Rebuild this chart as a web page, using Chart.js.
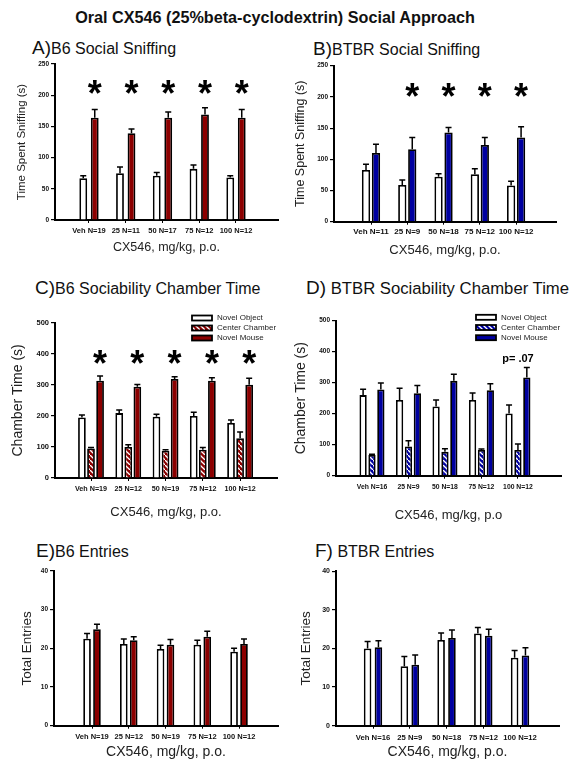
<!DOCTYPE html>
<html>
<head>
<meta charset="utf-8">
<script src="https://cdn.jsdelivr.net/npm/chart.js@4.4.1/dist/chart.umd.min.js"></script>
<style>
  html, body { margin: 0; padding: 0; background: #fff; }
  body { width: 576px; height: 760px; position: relative; overflow: hidden; font-family: 'Liberation Sans', Arial, sans-serif; }
  canvas { position: absolute; }
  #main { position: absolute; top: 9px; left: 0; width: 550px; text-align: center; font-weight: bold; font-size: 16.2px; line-height: 1; color: #111; }
  .ttl { position: absolute; white-space: nowrap; color: #111; font-size: 16px; line-height: 20px; }
  .ttl span { font-size: 19px; line-height: 0; }
</style>
</head>
<body>
<div id="main">Oral CX546 (25%beta-cyclodextrin) Social Approach</div>
<div class="ttl" style="left:32px;top:39px"><span>A)</span>B6 Social Sniffing</div>
<div class="ttl" style="left:313px;top:40px"><span>B)</span>BTBR Social Sniffing</div>
<div class="ttl" style="left:35px;top:279px"><span>C)</span>B6 Sociability Chamber Time</div>
<div class="ttl" style="left:306px;top:279px;font-size:16.7px"><span>D)</span> BTBR Sociability Chamber Time</div>
<div class="ttl" style="left:36px;top:542px"><span>E)</span>B6 Entries</div>
<div class="ttl" style="left:315px;top:542px"><span>F)</span> BTBR Entries</div>
<canvas id="a" width="288" height="224"></canvas>
<canvas id="b" width="288" height="226"></canvas>
<canvas id="c" width="288" height="222"></canvas>
<canvas id="d" width="288" height="222"></canvas>
<canvas id="e" width="288" height="195"></canvas>
<canvas id="f" width="288" height="195"></canvas>
<script>
// tick labels (dose + group size)
var labelsA = ['Veh N=19', '25 N=11', '50 N=17', '75 N=12', '100 N=12'];
var labelsB = ['Veh N=11', '25 N=9', '50 N=18', '75 N=12', '100 N=12'];
var labelsC = ['Veh N=19', '25 N=12', '50 N=19', '75 N=12', '100 N=12'];
var labelsD = ['Veh N=16', '25 N=9', '50 N=18', '75 N=12', '100 N=12'];
var labelsE = ['Veh N=19', '25 N=12', '50 N=19', '75 N=12', '100 N=12'];
var labelsF = ['Veh N=16', '25 N=9', '50 N=18', '75 N=12', '100 N=12'];

// A) B6 social sniffing (s)
var objectA = [67, 75, 71, 82, 68];
var objectErrA = [4, 10, 5, 6, 3];
var mouseA = [164, 139, 164, 169, 164];
var mouseErrA = [13, 7, 9, 11, 13];
var marksA = ['*', '*', '*', '*', '*'];

// B) BTBR social sniffing (s)
var objectB = [83, 59, 72, 76, 58];
var objectErrB = [9, 8, 5, 9, 7];
var mouseB = [110, 116, 143, 123, 135];
var mouseErrB = [14, 19, 8, 12, 17];
var marksB = ['', '*', '*', '*', '*'];

// C) B6 chamber time (s)
var objectC = [195, 209, 197, 200, 177];
var objectErrC = [8, 10, 8, 12, 10];
var centerC = [95, 100, 88, 91, 128];
var centerErrC = [3, 7, 3, 7, 20];
var mouseC = [313, 294, 319, 313, 300];
var mouseErrC = [15, 7, 7, 10, 21];
var marksC = ['*', '*', '*', '*', '*'];

// D) BTBR chamber time (s)
var objectD = [260, 244, 223, 244, 201];
var objectErrD = [19, 38, 21, 23, 27];
var centerD = [67, 94, 77, 83, 83];
var centerErrD = [2, 19, 10, 3, 19];
var mouseD = [278, 266, 306, 276, 317];
var mouseErrD = [21, 25, 21, 21, 32];
var marksD = ['', '', '', '', 'p= .07'];

// E) B6 entries
var objectE = [22.5, 21.1, 19.8, 20.9, 19.1];
var objectErrE = [1.3, 1.3, 1.0, 1.2, 0.9];
var mouseE = [24.9, 22.1, 20.9, 23.0, 21.1];
var mouseErrE = [1.3, 0.9, 1.4, 1.4, 1.3];

// F) BTBR entries
var objectF = [20.0, 15.4, 22.2, 23.9, 17.6];
var objectErrF = [1.8, 2.5, 1.8, 1.5, 1.9];
var mouseF = [20.3, 15.8, 22.7, 23.3, 18.2];
var mouseErrF = [1.7, 2.5, 2.1, 1.7, 2.0];

var FONT = "'Liberation Sans', Arial, sans-serif";
var RED = '#8c0000';
var BLUE = '#0000a0';

// red/blue fill with white diagonal dashes
function hatch(color) {
	var c = document.createElement('canvas');
	c.width = 5; c.height = 5;
	var g = c.getContext('2d');
	g.fillStyle = color;
	g.fillRect(0, 0, 5, 5);
	g.strokeStyle = '#fff';
	g.lineWidth = 1.3;
	g.beginPath();
	g.moveTo(-1, -1); g.lineTo(6, 6);
	g.stroke();
	return g.createPattern(c, 'repeat');
}

function pts(vals) {
	return vals.map(function(v, i) { return { x: i + 1, y: v }; });
}

// upward error bars with a cap
var errorBars = {
	id: 'errorBars',
	afterDatasetsDraw: function(chart) {
		var ctx = chart.ctx, ys = chart.scales.y;
		ctx.save();
		ctx.strokeStyle = '#000';
		ctx.lineWidth = 1.5;
		chart.data.datasets.forEach(function(ds, di) {
			chart.getDatasetMeta(di).data.forEach(function(bar, i) {
				var top = ys.getPixelForValue(ds.data[i].y + ds.err[i]);
				ctx.beginPath();
				ctx.moveTo(bar.x, bar.y); ctx.lineTo(bar.x, top);
				ctx.moveTo(bar.x - 3, top); ctx.lineTo(bar.x + 3, top);
				ctx.stroke();
			});
		});
		ctx.restore();
	}
};

// significance marks above groups
var marks = {
	id: 'marks',
	afterDraw: function(chart, args, opts) {
		if (!opts.text) return;
		var ctx = chart.ctx, ys = chart.scales.y, xs = chart.scales.x;
		var last = chart.getDatasetMeta(chart.data.datasets.length - 1);
		var y = ys.getPixelForValue(opts.level);
		ctx.save();
		ctx.fillStyle = '#000';
		ctx.textAlign = 'center';
		opts.text.forEach(function(t, i) {
			if (!t) return;
			if (t === '*') {
				ctx.font = 'bold 36px ' + FONT;
				ctx.textBaseline = 'alphabetic';
				ctx.fillText(t, last.data[i].x, y + 20);
			} else {
				ctx.font = 'bold 11px ' + FONT;
				ctx.textBaseline = 'middle';
				ctx.fillText(t, xs.getPixelForValue(i + 1), y);
			}
		});
		ctx.restore();
	}
};

// small legend in the top right corner of the plot
var boxLegend = {
	id: 'boxLegend',
	afterDraw: function(chart, args, opts) {
		if (!opts.show) return;
		var ctx = chart.ctx, a = chart.chartArea;
		var x0 = a.right - 85;
		ctx.save();
		chart.data.datasets.forEach(function(ds, i) {
			var y = a.top + opts.dy + i * opts.step;
			ctx.fillStyle = ds.backgroundColor;
			ctx.fillRect(x0, y - 2.5, 20, 5);
			ctx.strokeStyle = '#000';
			ctx.lineWidth = 1.8;
			ctx.strokeRect(x0, y - 2.5, 20, 5);
			ctx.fillStyle = '#222';
			ctx.font = '8px ' + FONT;
			ctx.textBaseline = 'middle';
			ctx.textAlign = 'left';
			ctx.fillText(ds.label, x0 + 25, y);
		});
		ctx.restore();
	}
};

function bars(label, vals, errs, fill, cp, bp) {
	return {
		label: label, data: pts(vals), err: errs,
		backgroundColor: fill, borderColor: '#000', borderWidth: 1.8,
		categoryPercentage: cp, barPercentage: bp
	};
}

function panel(cfg) {
	var el = document.getElementById(cfg.id);
	el.style.left = cfg.box.x + 'px';
	el.style.top = cfg.box.y + 'px';
	var bottom = cfg.box.y + cfg.box.h;
	return new Chart(el, {
		type: 'bar',
		data: { datasets: cfg.datasets },
		plugins: [errorBars, marks, boxLegend],
		options: {
			responsive: false,
			animation: false,
			events: [],
			layout: { padding: { left: 0, top: cfg.area.t - cfg.box.y, right: cfg.box.x + cfg.box.w - cfg.area.r, bottom: 0 } },
			plugins: {
				legend: { display: false },
				tooltip: { enabled: false },
				marks: { text: cfg.marks, level: cfg.markLevel },
				boxLegend: { show: !!cfg.legend, dy: cfg.legend ? cfg.legend.dy : 0, step: cfg.legend ? cfg.legend.step : 0 }
			},
			scales: {
				x: {
					type: 'linear', min: cfg.xMin, max: cfg.xMax, offset: false,
					afterBuildTicks: function(s) { s.ticks = cfg.labels.map(function(l, i) { return { value: i + 1 }; }); },
					afterFit: function(s) { s.height = bottom - cfg.area.b; },
					border: { color: '#000', width: 2 },
					grid: { drawOnChartArea: false, offset: false, color: '#000', tickLength: 3, lineWidth: 1 },
					ticks: {
						autoSkip: false, maxRotation: 0, minRotation: 0, color: '#111',
						padding: cfg.tickY - cfg.area.b - 3 - cfg.xTickSize / 2,
						font: { family: FONT, size: cfg.xTickSize, weight: 'bold', lineHeight: 1 },
						callback: function(v) { return cfg.labels[Math.round(v) - 1]; }
					},
					title: {
						display: true, text: cfg.xTitle, color: '#222',
						font: { family: FONT, size: cfg.xTitleSize, lineHeight: 1 },
						padding: { top: 0, bottom: bottom - cfg.xTitleY - cfg.xTitleSize / 2 }
					}
				},
				y: {
					min: 0, max: cfg.yMax,
					afterFit: function(s) { s.width = cfg.area.l - cfg.box.x; },
					border: { color: '#000', width: 2 },
					grid: { drawOnChartArea: false, color: '#000', tickLength: 4, lineWidth: 1.2 },
					ticks: { stepSize: cfg.yStep, padding: 2, color: '#111', font: { family: FONT, size: cfg.yTickSize, weight: 'bold' } },
					title: {
						display: true, text: cfg.yTitle, color: '#222',
						font: { family: FONT, size: cfg.yTitleSize, lineHeight: 1 },
						padding: { top: cfg.yTitleX - cfg.box.x - cfg.yTitleSize / 2, bottom: 0 }
					}
				}
			}
		}
	});
}

var xTitle = 'CX546, mg/kg, p.o.';

panel({
	id: 'a', box: { x: 0, y: 36, w: 288, h: 224 }, area: { l: 55, t: 64, r: 278, b: 220 },
	xMin: 0.075, xMax: 6.143, labels: labelsA, tickY: 231, xTickSize: 7.5,
	xTitle: xTitle, xTitleSize: 12.5, xTitleY: 248,
	yMax: 250, yStep: 50, yTickSize: 6.5, yTitle: 'Time Spent Sniffing (s)', yTitleSize: 11.5, yTitleX: 22,
	marks: marksA, markLevel: 214,
	datasets: [
		bars('Novel Object', objectA, objectErrA, '#fff', 0.626, 0.68),
		bars('Novel Mouse', mouseA, mouseErrA, RED, 0.626, 0.68)
	]
});

panel({
	id: 'b', box: { x: 288, y: 36, w: 288, h: 226 }, area: { l: 334, t: 65.7, r: 556, b: 221.7 },
	xMin: -0.02, xMax: 6.10, labels: labelsB, tickY: 232, xTickSize: 8,
	xTitle: xTitle, xTitleSize: 13, xTitleY: 250,
	yMax: 250, yStep: 50, yTickSize: 6.5, yTitle: 'Time Spent Sniffing (s)', yTitleSize: 12.5, yTitleX: 301,
	marks: marksB, markLevel: 212,
	datasets: [
		bars('Novel Object', objectB, objectErrB, '#fff', 0.55, 0.83),
		bars('Novel Mouse', mouseB, mouseErrB, BLUE, 0.55, 0.83)
	]
});

panel({
	id: 'c', box: { x: 0, y: 300, w: 288, h: 222 }, area: { l: 55, t: 322.7, r: 277, b: 478 },
	xMin: 0.034, xMax: 5.99, labels: labelsC, tickY: 489, xTickSize: 7.2,
	xTitle: xTitle, xTitleSize: 13, xTitleY: 512,
	yMax: 500, yStep: 100, yTickSize: 7.5, yTitle: 'Chamber Time (s)', yTitleSize: 14, yTitleX: 18,
	marks: marksC, markLevel: 393, legend: { dy: -4.7, step: 10 },
	datasets: [
		bars('Novel Object', objectC, objectErrC, '#fff', 0.73, 0.85),
		bars('Center Chamber', centerC, centerErrC, hatch(RED), 0.73, 0.85),
		bars('Novel Mouse', mouseC, mouseErrC, RED, 0.73, 0.85)
	]
});

panel({
	id: 'd', box: { x: 288, y: 300, w: 288, h: 222 }, area: { l: 336, t: 320.7, r: 561, b: 475.7 },
	xMin: 0.014, xMax: 6.18, labels: labelsD, tickY: 487, xTickSize: 6.8,
	xTitle: 'CX546, mg/kg, p.o', xTitleSize: 13, xTitleY: 515,
	yMax: 500, yStep: 100, yTickSize: 6.5, yTitle: 'Chamber Time (s)', yTitleSize: 14, yTitleX: 301,
	marks: marksD, markLevel: 378, legend: { dy: -3.4, step: 10.2 },
	datasets: [
		bars('Novel Object', objectD, objectErrD, '#fff', 0.73, 0.82),
		bars('Center Chamber', centerD, centerErrD, hatch(BLUE), 0.73, 0.82),
		bars('Novel Mouse', mouseD, mouseErrD, BLUE, 0.73, 0.82)
	]
});

panel({
	id: 'e', box: { x: 0, y: 565, w: 288, h: 195 }, area: { l: 54, t: 570.7, r: 278, b: 725.7 },
	xMin: -0.034, xMax: 6.06, labels: labelsE, tickY: 737, xTickSize: 7.5,
	xTitle: xTitle, xTitleSize: 14, xTitleY: 752,
	yMax: 40, yStep: 10, yTickSize: 6.5, yTitle: 'Total Entries', yTitleSize: 13.5, yTitleX: 27,
	datasets: [
		bars('Novel Object', objectE, objectErrE, '#fff', 0.54, 0.77),
		bars('Novel Mouse', mouseE, mouseErrE, RED, 0.54, 0.77)
	]
});

panel({
	id: 'f', box: { x: 288, y: 565, w: 288, h: 195 }, area: { l: 336, t: 570, r: 559, b: 725.7 },
	xMin: -0.007, xMax: 6.06, labels: labelsF, tickY: 737.7, xTickSize: 7.7,
	xTitle: xTitle, xTitleSize: 14, xTitleY: 751.7,
	yMax: 40, yStep: 10, yTickSize: 7, yTitle: 'Total Entries', yTitleSize: 13.5, yTitleX: 306,
	datasets: [
		bars('Novel Object', objectF, objectErrF, '#fff', 0.59, 0.70),
		bars('Novel Mouse', mouseF, mouseErrF, BLUE, 0.59, 0.70)
	]
});
</script>
</body>
</html>
